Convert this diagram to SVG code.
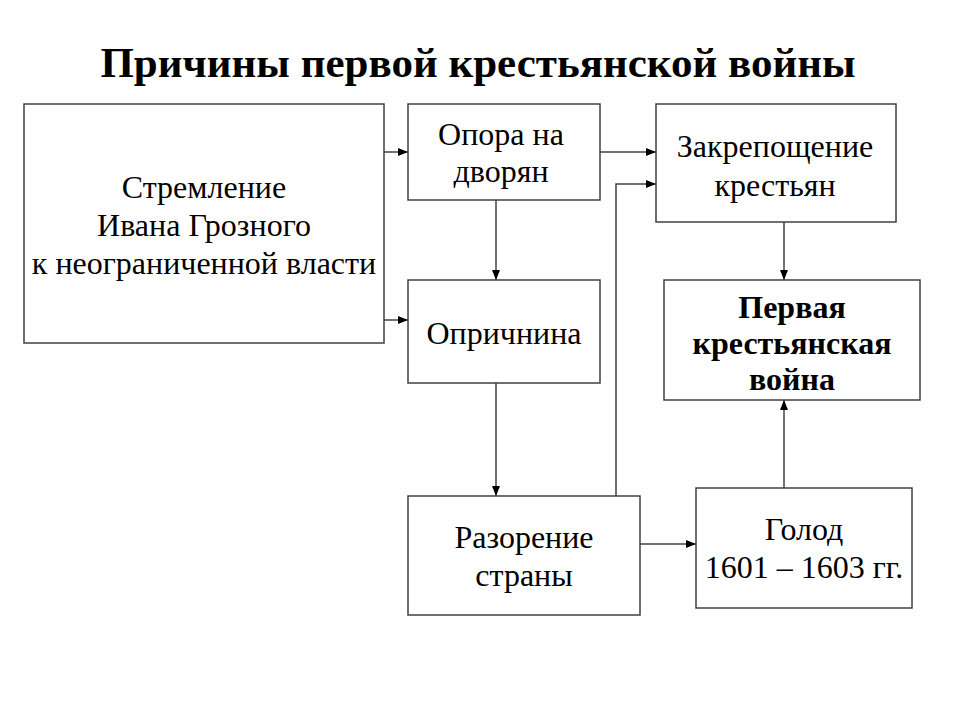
<svg xmlns="http://www.w3.org/2000/svg" width="960" height="720" viewBox="0 0 960 720">
<defs>
<marker id="arr" markerWidth="10" markerHeight="8" refX="10" refY="4" orient="auto" markerUnits="userSpaceOnUse">
<path d="M0,0 L10,4 L0,8 Z" fill="#000"/>
</marker>
<style>
.box{fill:#fff;stroke:#404040;stroke-width:1.5}
.t{font-family:"Liberation Serif","Times New Roman",serif;font-size:32px;fill:#000;text-anchor:middle}
.b{font-weight:bold}
.ln{fill:none;stroke:#404040;stroke-width:1.5;marker-end:url(#arr)}
</style>
</defs>
<rect width="960" height="720" fill="#fff"/>
<text x="478" y="77" class="t b" style="font-size:43px">Причины первой крестьянской войны</text>
<g id="connectors">
<line x1="384" y1="152" x2="408" y2="152" class="ln"/>
<line x1="384" y1="320" x2="408" y2="320" class="ln"/>
<line x1="496" y1="200" x2="496" y2="280" class="ln"/>
<line x1="600" y1="152" x2="656" y2="152" class="ln"/>
<polyline points="616,496 616,184 656,184" class="ln"/>
<line x1="496" y1="383" x2="496" y2="496" class="ln"/>
<line x1="640" y1="544" x2="696" y2="544" class="ln"/>
<line x1="784" y1="222" x2="784" y2="280" class="ln"/>
<line x1="784" y1="488" x2="784" y2="400" class="ln"/>
</g>
<g id="n1">
<rect x="24" y="104" width="360" height="239" class="box"/>
<text x="204" y="198" class="t">Стремление</text>
<text x="204" y="236" class="t">Ивана Грозного</text>
<text x="204" y="274" class="t">к неограниченной власти</text>
</g>
<g id="n2">
<rect x="408" y="104" width="192" height="96" class="box"/>
<text x="501" y="145" class="t">Опора на</text>
<text x="501" y="182" class="t">дворян</text>
</g>
<g id="n3">
<rect x="408" y="280" width="192" height="103" class="box"/>
<text x="504" y="344" class="t">Опричнина</text>
</g>
<g id="n4">
<rect x="656" y="104" width="240" height="118" class="box"/>
<text x="775" y="157" class="t">Закрепощение</text>
<text x="775" y="196" class="t">крестьян</text>
</g>
<g id="n5">
<rect x="664" y="280" width="256" height="120" class="box"/>
<text x="792" y="318" class="t b">Первая</text>
<text x="792" y="354" class="t b">крестьянская</text>
<text x="792" y="390" class="t b">война</text>
</g>
<g id="n6">
<rect x="408" y="496" width="232" height="119" class="box"/>
<text x="524" y="548" class="t">Разорение</text>
<text x="524" y="586" class="t">страны</text>
</g>
<g id="n7">
<rect x="696" y="488" width="216" height="120" class="box"/>
<text x="804" y="540" class="t">Голод</text>
<text x="804" y="578" class="t">1601 – 1603 гг.</text>
</g>
</svg>
